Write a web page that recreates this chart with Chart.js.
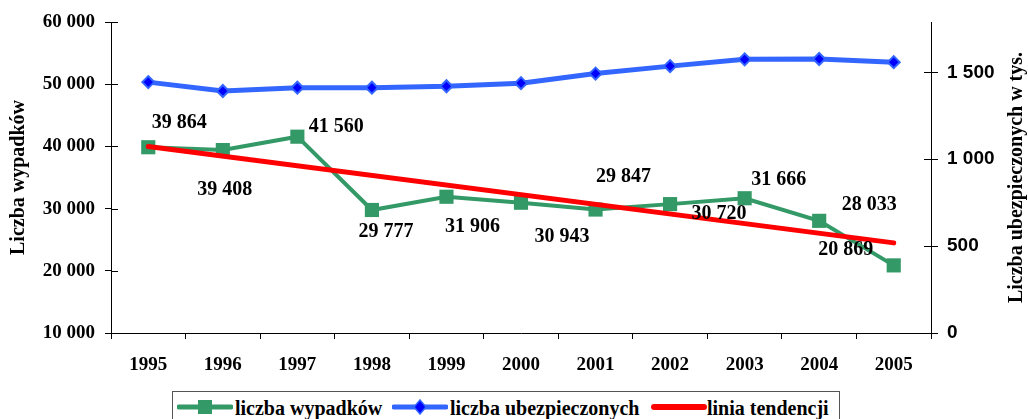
<!DOCTYPE html>
<html>
<head>
<meta charset="utf-8">
<script src="https://cdn.jsdelivr.net/npm/chart.js@4/dist/chart.umd.min.js"></script>
<style>
  html, body { margin: 0; padding: 0; background: #fff; overflow: hidden; }
  #wrap { position: relative; width: 1028px; height: 419px; }
  #legend {
    position: absolute; left: 172px; top: 391px; width: 668px; height: 40px;
    border: 1px solid #555; box-sizing: border-box; background: #fff;
    font: bold 20px "Liberation Serif", "Times New Roman", serif; color: #000;
  }
  #legend .sym { position: absolute; top: 7px; width: 56px; height: 16px; }
  #legend .txt { position: absolute; top: 4px; white-space: nowrap; line-height: 24px; }
</style>
</head>
<body>
<div id="wrap">
  <canvas id="chart" width="1028" height="419"></canvas>
  <div id="legend">
    <svg class="sym" style="left:4px" viewBox="0 0 56 16">
      <line x1="2" y1="8" x2="54" y2="8" stroke="#339966" stroke-width="5" stroke-linecap="round"/>
      <rect x="21" y="1" width="14" height="14" fill="#339966"/>
    </svg>
    <span class="txt" style="left:62px">liczba wypadków</span>
    <svg class="sym" style="left:219px" viewBox="0 0 56 16">
      <line x1="2" y1="8" x2="54" y2="8" stroke="#3366FF" stroke-width="5" stroke-linecap="round"/>
      <polygon points="28,1 34,8 28,15 22,8" fill="#0000FF" stroke="#3366FF" stroke-width="1.5"/>
    </svg>
    <span class="txt" style="left:277px">liczba ubezpieczonych</span>
    <svg class="sym" style="left:478px" viewBox="0 0 56 16">
      <line x1="3" y1="8" x2="53" y2="8" stroke="#FF0000" stroke-width="6" stroke-linecap="round"/>
    </svg>
    <span class="txt" style="left:534px">linia tendencji</span>
  </div>
</div>
<script>
// Data
const years = ['1995', '1996', '1997', '1998', '1999', '2000', '2001', '2002', '2003', '2004', '2005'];
const accidents = [39864, 39408, 41560, 29777, 31906, 30943, 29847, 30720, 31666, 28033, 20869];
const insured = [1444, 1393, 1412, 1412, 1420, 1438, 1493, 1536, 1575, 1577, 1559];
const trendYears = ['1995', '2005'];
const trendValues = [39980, 24490];
const leftTicks = [10000, 20000, 30000, 40000, 50000, 60000];
const rightTicks = [0, 500, 1000, 1500];

// where each value label sits relative to its point (like the original)
const labelOffsets = [
    [31, -24], [2, 40], [39, -10], [14, 22], [26, 30], [41, 34],
    [28, -33], [49, 10], [34, -18], [50, -16], [-48, -16]
];

const serif = '"Liberation Serif", "Times New Roman", serif';
const sans = '"Liberation Sans", Arial, sans-serif';

function fmt(v) {
    return String(v).replace(/\B(?=(\d{3})+(?!\d))/g, ' ');
}

// Value labels for the accidents series
const valueLabels = {
    id: 'valueLabels',
    afterDatasetsDraw(chart) {
        const ctx = chart.ctx;
        const meta = chart.getDatasetMeta(0);
        ctx.save();
        ctx.font = 'bold 20px ' + serif;
        ctx.fillStyle = '#000';
        ctx.textAlign = 'center';
        ctx.textBaseline = 'middle';
        meta.data.forEach((pt, i) => {
            const off = labelOffsets[i] || [0, -20];
            ctx.fillText(fmt(accidents[i]), pt.x + off[0], pt.y + off[1]);
        });
        ctx.restore();
    }
};

// Tick marks crossing the y axes, and rotated axis titles
const axisExtras = {
    id: 'axisExtras',
    afterDraw(chart) {
        const ctx = chart.ctx;
        const area = chart.chartArea;
        ctx.save();
        ctx.strokeStyle = '#000';
        ctx.lineWidth = 1;
        ctx.beginPath();
        chart.scales.y.ticks.forEach(t => {
            const y = Math.round(chart.scales.y.getPixelForValue(t.value)) + 0.5;
            ctx.moveTo(area.left, y);
            ctx.lineTo(area.left + 7, y);
        });
        chart.scales.y2.ticks.forEach(t => {
            const y = Math.round(chart.scales.y2.getPixelForValue(t.value)) + 0.5;
            ctx.moveTo(area.right, y);
            ctx.lineTo(area.right - 7, y);
        });
        ctx.stroke();

        const midY = (area.top + area.bottom) / 2;
        ctx.fillStyle = '#000';
        ctx.textAlign = 'center';
        ctx.textBaseline = 'middle';
        ctx.font = 'bold 20px ' + serif;
        ctx.translate(19, midY);
        ctx.rotate(-Math.PI / 2);
        ctx.fillText('Liczba wypadków', 0, 0);
        ctx.setTransform(1, 0, 0, 1, 0, 0);
        ctx.translate(1017, midY);
        ctx.rotate(-Math.PI / 2);
        ctx.fillText('Liczba ubezpieczonych w tys.', 0, 0);
        ctx.restore();
    }
};

new Chart(document.getElementById('chart'), {
    type: 'line',
    data: {
        labels: years,
        datasets: [
            {
                label: 'liczba wypadków',
                data: accidents,
                yAxisID: 'y',
                borderColor: '#339966',
                backgroundColor: '#339966',
                borderWidth: 4,
                pointStyle: 'rect',
                pointRadius: 10,
                pointBorderWidth: 0,
                order: 3
            },
            {
                label: 'liczba ubezpieczonych',
                data: insured,
                yAxisID: 'y2',
                borderColor: '#3366FF',
                backgroundColor: '#0000FF',
                borderWidth: 5,
                pointStyle: 'rectRot',
                pointRadius: 6,
                pointBorderWidth: 2,
                pointBorderColor: '#3366FF',
                order: 2
            },
            {
                label: 'linia tendencji',
                data: trendYears.map((y, i) => ({ x: y, y: trendValues[i] })),
                yAxisID: 'y',
                borderColor: '#FF0000',
                borderWidth: 5,
                borderCapStyle: 'round',
                pointRadius: 0,
                order: 1
            }
        ]
    },
    options: {
        responsive: false,
        animation: false,
        layout: { padding: { top: 22, left: 0, right: 0, bottom: 0 } },
        plugins: {
            legend: { display: false },
            tooltip: { enabled: false }
        },
        scales: {
            x: {
                offset: true,
                grid: { offset: true, drawOnChartArea: false, tickLength: 6, color: '#000' },
                border: { color: '#000' },
                ticks: {
                    color: '#000',
                    font: { family: serif, size: 19, weight: 'bold' },
                    padding: 15,
                    maxRotation: 0
                },
                afterFit: s => { s.height = 86; }
            },
            y: {
                position: 'left',
                min: 10000,
                max: 60000,
                afterBuildTicks: s => { s.ticks = leftTicks.map(v => ({ value: v })); },
                grid: { drawOnChartArea: false, tickLength: 6, color: '#000' },
                border: { color: '#000' },
                ticks: {
                    color: '#000',
                    font: { family: serif, size: 19, weight: 'bold' },
                    padding: 10,
                    callback: v => fmt(v)
                },
                afterFit: s => { s.width = 111; }
            },
            y2: {
                position: 'right',
                min: 0,
                max: 1790,
                afterBuildTicks: s => { s.ticks = rightTicks.map(v => ({ value: v })); },
                grid: { drawOnChartArea: false, tickLength: 7, color: '#000' },
                border: { color: '#000' },
                ticks: {
                    color: '#000',
                    font: { family: sans, size: 19, weight: 'bold' },
                    padding: 9,
                    callback: v => fmt(v)
                },
                afterFit: s => { s.width = 97; }
            }
        }
    },
    plugins: [valueLabels, axisExtras]
});
</script>
</body>
</html>
